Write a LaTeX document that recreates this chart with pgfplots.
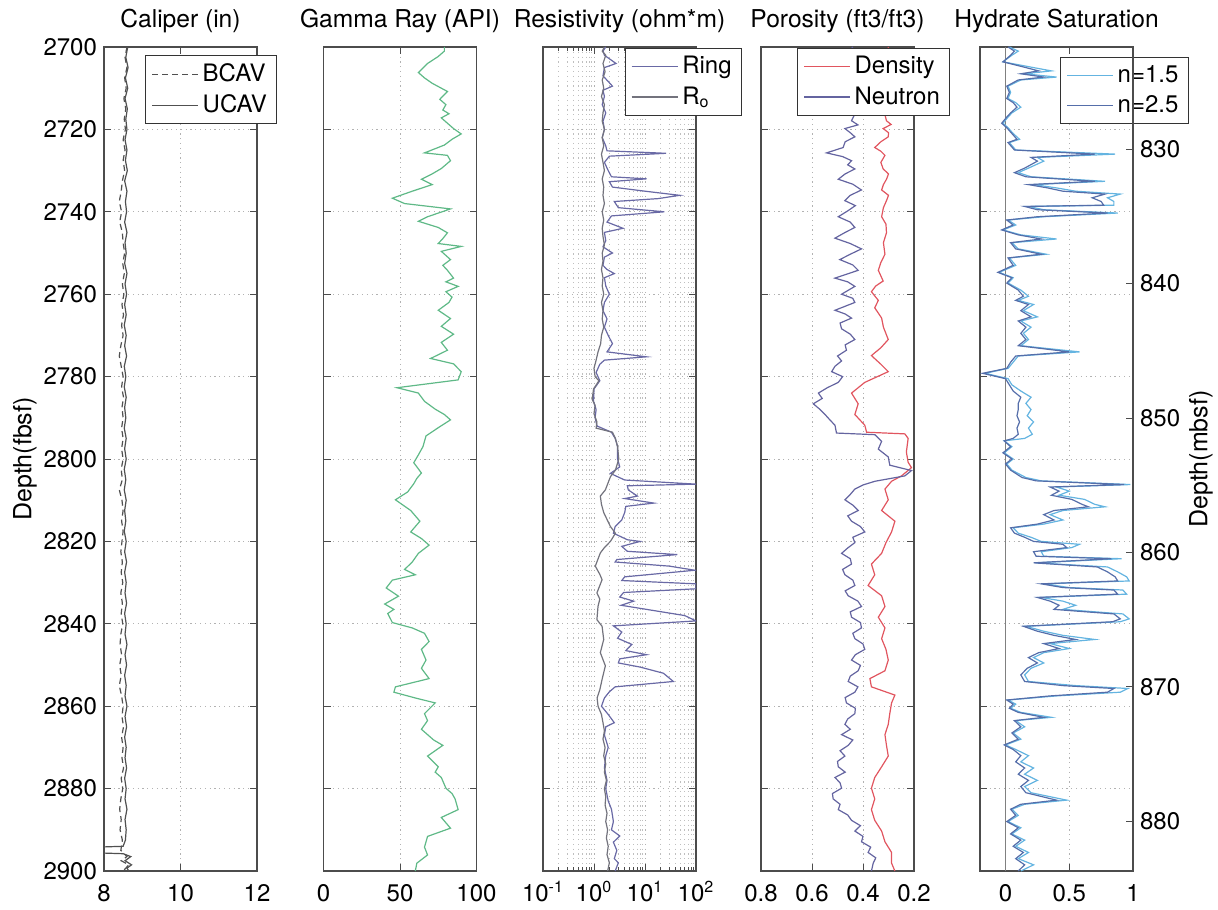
\documentclass[border=0pt]{standalone}
\usepackage{fontspec}
\setmainfont{TeX Gyre Heros}
\usepackage{pgfplots}
\pgfplotsset{compat=1.18}
\definecolor{calcol}{RGB}{80,80,80}
\definecolor{gamcol}{RGB}{95,185,135}
\definecolor{ringcol}{RGB}{105,105,165}
\definecolor{rocol}{RGB}{115,115,125}
\definecolor{denscol}{RGB}{225,85,95}
\definecolor{neutcol}{RGB}{100,100,160}
\definecolor{sacol}{RGB}{100,180,225}
\definecolor{sbcol}{RGB}{85,110,170}
\pgfplotsset{
  welllog/.style={
    scale only axis, width=76.5pt, height=412pt, anchor=south west,
    ymin=2700, ymax=2900, y dir=reverse,
    ytick={2700,2720,...,2900},
    tick align=inside, xtick pos=both, ytick pos=both,
    xmajorgrids, ymajorgrids,
    major grid style={gray!60, line width=0.4pt, dash pattern=on 0.6pt off 1.8pt},
    minor grid style={gray!50, line width=0.4pt, dash pattern=on 0.6pt off 1.8pt},
    axis line style={black!70, line width=0.6pt},
    every tick/.style={black!70, line width=0.5pt},
    major tick length=3.5pt, minor tick length=2pt,
    tick label style={font=\fontsize{12}{14}\selectfont},
    xticklabel style={anchor=base, yshift=-15pt},
    /pgf/number format/assume math mode=true,
    /pgf/number format/1000 sep={},
    title style={font=\fontsize{12.3}{14}\selectfont, at={(0.5,1)}, anchor=base, yshift=3.5pt},
    legend style={font=\fontsize{12}{14}\selectfont, draw=black!80, fill=white, anchor=north west,
      inner xsep=3pt, inner ysep=2pt, row sep=1pt, line width=0.5pt},
    legend cell align=left,
    legend image code/.code={\draw[##1] (0pt,0pt) -- (23pt,0pt);},
    every axis plot/.append style={line width=0.6pt},
  }
}
\begin{document}
\begin{tikzpicture}
\useasboundingbox (0,0) rectangle (609pt,454.5pt);
% ---------------- Caliper
\begin{axis}[welllog, at={(52pt,19pt)}, xmin=8, xmax=12, xtick={8,10,12},
  title={Caliper (in)}, ylabel={Depth(fbsf)},
  ylabel style={font=\fontsize{12.5}{14}\selectfont, at={(axis description cs:-0.516,0.5)}, anchor=center},
  legend style={at={(0.268,0.990)}}]
\addplot[calcol, dash pattern=on 3pt off 2pt] coordinates {
(8.60,2700) (8.55,2702.5) (8.60,2705) (8.54,2707.5) (8.58,2710) (8.52,2712.5) (8.57,2715) (8.53,2717.5)
(8.56,2720) (8.50,2722.5) (8.55,2725) (8.50,2727.5) (8.54,2730) (8.48,2732.5) (8.45,2735) (8.40,2737.5)
(8.46,2740) (8.41,2742.5) (8.48,2745) (8.50,2747.5) (8.54,2750) (8.49,2752.5) (8.53,2755) (8.48,2757.5)
(8.52,2760) (8.47,2762.5) (8.51,2765) (8.46,2767.5) (8.50,2770) (8.44,2772.5) (8.40,2775) (8.45,2777.5)
(8.50,2780) (8.46,2782.5) (8.51,2785) (8.47,2787.5) (8.50,2790) (8.46,2792.5) (8.50,2795) (8.46,2797.5)
(8.50,2800) (8.45,2802.5) (8.48,2805) (8.40,2807.5) (8.47,2810) (8.50,2812.5) (8.46,2815) (8.50,2817.5)
(8.47,2820) (8.44,2822.5) (8.48,2825) (8.45,2827.5) (8.49,2830) (8.44,2832.5) (8.48,2835) (8.45,2837.5)
(8.49,2840) (8.44,2842.5) (8.42,2845) (8.46,2847.5) (8.41,2850) (8.45,2852.5) (8.40,2855) (8.46,2857.5)
(8.50,2860) (8.47,2862.5) (8.51,2865) (8.46,2867.5) (8.50,2870) (8.47,2872.5) (8.51,2875) (8.45,2877.5)
(8.49,2880) (8.44,2882.5) (8.41,2885) (8.45,2887.5) (8.42,2890) (8.48,2892.5) (8.44,2895) (8.60,2896.5)
(8.45,2897.5) (8.65,2898.5) (8.50,2900)};
\addlegendentry{BCAV}
\addplot[calcol] coordinates {
(8.62,2700) (8.57,2702.5) (8.63,2705) (8.56,2707.5) (8.62,2710) (8.55,2712.5) (8.61,2715) (8.57,2717.5)
(8.60,2720) (8.55,2722.5) (8.60,2725) (8.56,2727.5) (8.61,2730) (8.54,2732.5) (8.60,2735) (8.56,2737.5)
(8.59,2740) (8.54,2742.5) (8.60,2745) (8.55,2747.5) (8.58,2750) (8.54,2752.5) (8.60,2755) (8.55,2757.5)
(8.59,2760) (8.54,2762.5) (8.58,2765) (8.53,2767.5) (8.58,2770) (8.54,2772.5) (8.59,2775) (8.53,2777.5)
(8.57,2780) (8.53,2782.5) (8.58,2785) (8.54,2787.5) (8.57,2790) (8.53,2792.5) (8.58,2795) (8.54,2797.5)
(8.58,2800) (8.53,2802.5) (8.57,2805) (8.53,2807.5) (8.58,2810) (8.54,2812.5) (8.57,2815) (8.53,2817.5)
(8.58,2820) (8.54,2822.5) (8.59,2825) (8.54,2827.5) (8.58,2830) (8.55,2832.5) (8.59,2835) (8.54,2837.5)
(8.58,2840) (8.55,2842.5) (8.60,2845) (8.55,2847.5) (8.59,2850) (8.54,2852.5) (8.58,2855) (8.55,2857.5)
(8.60,2860) (8.55,2862.5) (8.59,2865) (8.54,2867.5) (8.58,2870) (8.55,2872.5) (8.59,2875) (8.54,2877.5)
(8.58,2880) (8.55,2882.5) (8.60,2885) (8.55,2887.5) (8.58,2890) (8.56,2892.5) (8.50,2894) (7.5,2894.3)
(7.5,2895.5) (8.50,2895.8) (8.70,2896.5) (8.55,2897.5) (8.72,2898.5) (8.60,2899.3) (8.65,2900)};
\addlegendentry{UCAV}
\end{axis}
% ---------------- Gamma ray
\begin{axis}[welllog, at={(161.75pt,19pt)}, xmin=0, xmax=100, xtick={0,50,100}, yticklabels={},
  title={Gamma Ray (API)}]
\addplot[gamcol] coordinates {
(79,2700) (79,2701) (75,2702.3) (68,2704) (62,2706.2) (66,2707.5) (71,2708.8) (81,2710.8) (76,2712.7)
(80,2714) (78,2715.3) (82,2716.2) (77,2717.2) (85,2719.8) (90,2721.1) (84,2722.4) (79,2723.8) (66,2725.7)
(81,2726.3) (83,2727.6) (77,2729.5) (71,2730.8) (64,2732.1) (71,2733.4) (58,2735) (45,2736.7) (53,2738)
(83,2739.3) (68,2741.2) (62,2742.3) (75,2743.8) (81,2745.1) (78,2746.5) (75,2747.7) (90,2748.4) (77,2749.6)
(83,2751.6) (78,2753) (81,2754.2) (85,2756.1) (80,2757) (88,2758.1) (80,2759.4) (84,2760.7) (82,2762)
(75,2763.9) (83,2765.9) (77,2767.8) (85,2769.7) (77,2771.7) (81,2773.6) (70,2775.6) (85,2776.9) (90,2778.8)
(88,2780.8) (48,2782.7) (62,2784) (66,2786) (73,2787.9) (79,2789.2) (83,2790.5) (75,2792.4) (71,2793.4)
(67,2794.4) (65,2797) (62,2799) (59,2800.9) (64,2803.4) (61,2804.7) (59,2806) (55,2808) (47,2809.9)
(57,2812.5) (63,2815.1) (57,2817.7) (64,2819.3) (69,2820.9) (62,2822.9) (58,2825) (53,2826.8) (60,2828.1)
(45,2829.4) (41,2831.3) (49,2833.3) (40,2835.2) (46,2836.5) (42,2837.5) (45,2839.7) (58,2841) (66,2842.3)
(69,2844.3) (64,2846.2) (67,2848.8) (64,2850.8) (69,2853.3) (47,2855.3) (46,2856.6) (60,2858) (73,2859.2)
(66,2861.8) (68,2863.5) (64,2865.6) (68,2866.9) (72,2868.2) (78,2869.5) (68,2872.1) (75,2874.7) (73,2876)
(77,2877.3) (80,2879.9) (84,2881.2) (86,2882.5) (88,2885.1) (77,2887) (83,2889.6) (68,2891.6) (66,2894.2)
(68,2896.1) (61,2898.1) (60,2900)};
\end{axis}
% ---------------- Resistivity
\begin{axis}[welllog, at={(271.5pt,19pt)}, xmode=log, xmin=0.1, xmax=100,
  xtick={0.1,1,10,100},
  xticklabels={10\textsuperscript{-1},10\textsuperscript{0},10\textsuperscript{1},10\textsuperscript{2}},
  minor xtick={0.2,0.3,0.4,0.5,0.6,0.7,0.8,0.9,2,3,4,5,6,7,8,9,20,30,40,50,60,70,80,90},
  xminorgrids, yticklabels={},
  title={Resistivity (ohm*m)},
  legend style={at={(0.533,0.999)}}]
\addplot[ringcol] coordinates {
(1.7,2700) (1.5,2701) (1.6,2702) (2.7,2704) (1.6,2705) (1.5,2707) (2.3,2709.5) (1.5,2710.5) (1.6,2712)
(1.45,2714) (1.7,2716) (1.5,2718) (1.6,2720) (1.45,2722) (1.7,2724) (1.8,2725.2) (26,2725.8) (2.0,2726.5)
(1.6,2728) (1.9,2730) (2.2,2731.5) (10.7,2732) (2.0,2732.7) (2.3,2734) (10,2735) (48,2736) (18,2736.8)
(2.5,2737.5) (3,2739) (24,2740) (2.2,2741) (1.8,2742.5) (3.7,2744) (1.6,2745) (1.7,2747) (1.5,2748.5)
(2.3,2750) (1.6,2751) (1.5,2753) (1.8,2754) (2.5,2755) (1.6,2756) (1.7,2758) (2.0,2760) (1.6,2762)
(1.5,2764) (1.8,2766) (1.6,2768) (1.9,2770) (2.3,2772) (1.8,2774) (10.7,2775.2) (1.6,2776) (1.3,2777)
(1.1,2779) (1.3,2781) (1.0,2783) (0.98,2786) (1.1,2788) (1.05,2790) (1.15,2792) (2.2,2793.5) (2.6,2795)
(2.9,2797) (2.9,2800) (3.2,2801.9) (2.1,2803.5) (4.0,2805.1) (100,2806.1) (4.5,2806.5) (4.7,2807.5)
(7.1,2809) (4.0,2809.6) (14.9,2810.7) (4.2,2811.5) (4.0,2813) (3.5,2814.8) (2.6,2816.4) (2.4,2818)
(4.5,2819.6) (8,2820) (3.5,2821.2) (4.5,2822.4) (43,2823.2) (2.8,2824.4) (2.6,2825) (30,2826) (95,2827)
(4,2828.6) (3.5,2829.5) (100,2830.3) (100,2831.5) (3.8,2832.4) (3.2,2833.5) (6,2834.5) (3.4,2835.5)
(60,2838) (100,2839.3) (2.4,2840.5) (3.5,2842) (2.9,2843.5) (5.5,2845) (4.2,2846.5) (10.7,2847.5)
(3.2,2848.5) (3.0,2849.5) (8,2850.5) (23,2852) (36,2854) (2.6,2855.3) (2.0,2856.5) (1.6,2858) (1.4,2860)
(1.9,2862) (2.5,2864) (1.7,2865) (1.6,2867) (1.9,2870) (1.7,2872) (1.6,2875) (1.8,2878) (1.7,2880)
(1.9,2883) (2.2,2885) (2.4,2888) (2.2,2890) (3.2,2891.5) (2.4,2893) (2.8,2895) (2.5,2897) (3.0,2898)
(2.6,2900)};
\addlegendentry{Ring}
\addplot[rocol] coordinates {
(1.6,2700) (1.45,2701) (1.7,2702) (1.5,2704) (1.65,2706) (1.45,2708) (1.55,2710) (1.4,2712) (1.6,2714)
(1.5,2716) (1.45,2718) (1.6,2720) (1.45,2722) (1.55,2724) (1.4,2726) (1.5,2728) (1.6,2730) (1.45,2732)
(1.55,2734) (1.5,2736) (1.6,2738) (1.45,2740) (1.55,2742) (1.45,2744) (1.5,2746) (1.6,2748) (1.45,2750)
(1.5,2752) (1.4,2754) (1.5,2756) (1.45,2758) (1.55,2760) (1.4,2762) (1.5,2764) (1.45,2766) (1.55,2768)
(1.4,2770) (1.35,2772) (1.2,2774) (1.1,2776) (1.0,2778) (1.05,2780) (1.25,2781) (0.98,2783) (0.92,2785.5)
(1.05,2787) (1.0,2789) (1.14,2791) (1.1,2792.5) (2.3,2793.5) (2.63,2795) (2.9,2797) (3.06,2800)
(2.63,2802.7) (2.1,2804.3) (1.67,2807.5) (1.33,2809) (1.4,2811) (1.55,2813) (2.1,2816.4) (2.63,2818)
(2.1,2820) (1.6,2821.5) (1.33,2822.8) (1.06,2826) (1.3,2828) (1.44,2829.3) (1.14,2832.5) (1.3,2834)
(1.2,2835.7) (1.14,2839) (1.44,2840.6) (1.55,2843.8) (1.33,2847) (1.67,2850.2) (1.44,2853.5) (1.3,2856)
(1.15,2858) (1.2,2860) (1.4,2862) (1.5,2864) (1.6,2866) (1.5,2868) (1.65,2870) (1.55,2872) (1.7,2874)
(1.6,2876) (1.75,2878) (1.6,2880) (1.7,2882) (1.65,2884) (1.8,2886) (1.7,2888) (1.85,2890) (1.75,2892)
(1.9,2894) (1.8,2896) (2.0,2898) (1.85,2900)};
\addlegendentry{R\textsubscript{o}}
\end{axis}
% ---------------- Porosity
\begin{axis}[welllog, at={(380.5pt,19pt)}, xmin=0.2, xmax=0.8, x dir=reverse,
  xtick={0.2,0.4,0.6,0.8}, yticklabels={},
  title={Porosity (ft3/ft3)},
  legend style={at={(0.235,0.999)}}]
\addplot[denscol] coordinates {
(0.30,2700) (0.32,2703) (0.29,2706) (0.31,2709) (0.30,2712) (0.32,2715) (0.308,2717.9) (0.29,2718.8)
(0.321,2719.8) (0.30,2720.8) (0.301,2721.8) (0.33,2723) (0.354,2724.4) (0.33,2725.3) (0.314,2726.3)
(0.33,2728) (0.321,2729.6) (0.30,2730.8) (0.308,2732.1) (0.32,2733.4) (0.327,2734.7) (0.30,2736)
(0.308,2737.3) (0.32,2739) (0.327,2741.2) (0.31,2743) (0.308,2745.1) (0.32,2747.5) (0.314,2750.3)
(0.33,2752.3) (0.340,2754.2) (0.321,2756.8) (0.35,2758) (0.367,2759.4) (0.34,2761.5) (0.354,2763.3)
(0.327,2765.8) (0.32,2768) (0.301,2771) (0.33,2773) (0.367,2774.9) (0.33,2777) (0.301,2778.8)
(0.393,2781.4) (0.445,2784) (0.419,2786.6) (0.432,2789.2) (0.393,2791.8) (0.386,2793.5) (0.236,2793.9)
(0.223,2795) (0.23,2798.3) (0.223,2800.8) (0.210,2802.1) (0.249,2804.1) (0.288,2805.4) (0.314,2807.3)
(0.301,2809.9) (0.327,2812.5) (0.275,2815.1) (0.288,2817.7) (0.31,2820.3) (0.327,2822.9) (0.367,2825.5)
(0.354,2828.1) (0.380,2830.7) (0.327,2833.2) (0.314,2835.8) (0.340,2838.4) (0.314,2841) (0.327,2843.6)
(0.31,2846.2) (0.301,2848.8) (0.314,2851.4) (0.373,2853.3) (0.367,2855.3) (0.275,2857.3) (0.288,2859.2)
(0.295,2861.8) (0.301,2864.4) (0.314,2866.9) (0.308,2869.5) (0.301,2872.1) (0.327,2874.7) (0.354,2877.3)
(0.367,2879.9) (0.354,2882.5) (0.367,2885.1) (0.354,2887.7) (0.327,2890.3) (0.314,2892.9) (0.288,2895.5)
(0.288,2898.1) (0.275,2900)};
\addlegendentry{Density}
\addplot[neutcol] coordinates {
(0.44,2700) (0.47,2702) (0.43,2704) (0.46,2706) (0.42,2708) (0.47,2710) (0.44,2712) (0.48,2714) (0.43,2716)
(0.445,2717.9) (0.42,2718.9) (0.471,2719.8) (0.45,2720.8) (0.432,2721.8) (0.47,2723) (0.478,2724.4)
(0.543,2725.7) (0.48,2726.6) (0.445,2727.6) (0.46,2728.6) (0.432,2729.6) (0.47,2730.8) (0.497,2732.1)
(0.44,2733.3) (0.406,2734.7) (0.45,2736) (0.471,2737.3) (0.43,2738.5) (0.458,2739.7) (0.497,2741.2)
(0.45,2742.5) (0.432,2743.8) (0.47,2745) (0.510,2746.4) (0.45,2747.7) (0.406,2749) (0.45,2750.3)
(0.491,2751.6) (0.44,2752.9) (0.419,2754.2) (0.510,2756.1) (0.46,2757) (0.432,2758.1) (0.484,2760)
(0.44,2761) (0.432,2762) (0.510,2763.9) (0.47,2764.8) (0.445,2765.8) (0.49,2767) (0.484,2768.4)
(0.45,2769.7) (0.432,2771) (0.47,2772.3) (0.465,2773.6) (0.50,2775) (0.484,2776.2) (0.51,2777.5)
(0.523,2778.8) (0.48,2780) (0.497,2781.4) (0.54,2782.7) (0.575,2784) (0.56,2785.3) (0.595,2786.6)
(0.57,2787.9) (0.549,2789.2) (0.53,2790.5) (0.510,2791.8) (0.504,2793.7) (0.353,2794.1) (0.327,2795.7)
(0.340,2797.6) (0.301,2799.5) (0.295,2801.5) (0.210,2802.8) (0.236,2804.1) (0.353,2805.4) (0.40,2806.3)
(0.432,2807.3) (0.45,2808.6) (0.471,2809.9) (0.44,2811.2) (0.419,2812.5) (0.46,2813.8) (0.445,2815.1)
(0.41,2816.4) (0.393,2817.7) (0.44,2819) (0.432,2820.3) (0.46,2821.6) (0.484,2822.9) (0.45,2824.2)
(0.445,2825.5) (0.48,2826.8) (0.471,2828.1) (0.44,2829.4) (0.432,2830.7) (0.47,2832) (0.458,2833.2)
(0.42,2834.5) (0.406,2835.8) (0.45,2837.1) (0.445,2838.4) (0.41,2839.7) (0.406,2841) (0.44,2842.3)
(0.432,2843.6) (0.40,2844.9) (0.393,2846.2) (0.43,2847.5) (0.445,2848.8) (0.41,2850.1) (0.419,2851.4)
(0.45,2852.7) (0.458,2854) (0.42,2855.3) (0.432,2856.6) (0.47,2857.9) (0.465,2859.2) (0.43,2860.5)
(0.432,2861.8) (0.46,2863.1) (0.471,2864.4) (0.45,2865.6) (0.484,2866.9) (0.44,2868.2) (0.458,2869.5)
(0.49,2870.8) (0.471,2872.1) (0.50,2873.4) (0.497,2874.7) (0.47,2876) (0.510,2877.3) (0.49,2878.6)
(0.484,2879.9) (0.52,2881.2) (0.517,2882.5) (0.49,2883.8) (0.497,2885.1) (0.46,2886.4) (0.445,2887.7)
(0.41,2889) (0.432,2890.3) (0.40,2891.6) (0.406,2892.9) (0.37,2894.2) (0.380,2895.5) (0.35,2896.8)
(0.360,2898.1) (0.367,2900)};
\addlegendentry{Neutron}
\end{axis}
% ---------------- Hydrate saturation
\begin{axis}[welllog, at={(490pt,19pt)}, xmin=-0.2, xmax=1, xtick={0,0.5,1}, yticklabels={},
  ytick pos=left, title={Hydrate Saturation},
  legend style={at={(0.523,0.988)}}]
\addplot[gray, line width=0.6pt, forget plot] coordinates {(0,2700) (0,2900)};
\addplot[sacol] coordinates {
(0.03,2700) (0.10,2701) (0.05,2702) (-0.02,2703.6) (0.22,2705) (0.36,2705.8) (0.15,2706.5) (0.40,2707.3)
(0.12,2708) (0.02,2709.5) (0.04,2711) (0.02,2712.5) (0.08,2713.5) (0.12,2714.6) (0.05,2716) (0.02,2717)
(-0.02,2718.5) (0.02,2719.6) (0.06,2721) (0.11,2722.4) (0.03,2723.2) (0.08,2725) (0.86,2726) (0.25,2726.8)
(0.30,2727.7) (0.18,2729.4) (0.10,2730.5) (0.20,2731.5) (0.78,2732.6) (0.22,2733.4) (0.40,2734.2)
(0.55,2735) (0.90,2735.7) (0.80,2736.6) (0.85,2737.5) (0.85,2738.4) (0.18,2738.7) (0.30,2739.5)
(0.88,2740.3) (0.30,2741.2) (0.02,2742) (0.08,2743.2) (-0.02,2744.4) (0.12,2745.6) (0.40,2746.6)
(0.05,2747.5) (0.10,2749) (0.32,2750.3) (0.03,2751.2) (0.08,2753) (-0.05,2754.7) (0.06,2756) (0.02,2757.3)
(0.12,2759) (0.18,2760.5) (0.10,2761.5) (0.22,2762.5) (0.14,2764) (0.25,2765.5) (0.12,2766.5) (0.20,2768)
(0.14,2769.5) (0.18,2771) (0.12,2772.5) (0.58,2774) (0.10,2775) (0.06,2776.5) (0.02,2778) (-0.16,2779.2)
(0.02,2780.5) (0.05,2782) (0.12,2783.5) (0.20,2785) (0.16,2786.5) (0.20,2788) (0.17,2789.5) (0.22,2791)
(0.18,2792.5) (0.21,2794) (0.15,2795) (-0.01,2795.6) (0.05,2797) (-0.01,2798.5) (0.06,2800) (0.01,2801.2)
(0.05,2802.7) (0.16,2804.5) (0.28,2805.3) (0.98,2806.2) (0.40,2806.8) (0.50,2807.8) (0.42,2808.8)
(0.62,2809.8) (0.70,2811) (0.78,2811.6) (0.45,2812.5) (0.35,2813.5) (0.45,2814.8) (0.30,2815.8)
(0.06,2816.7) (0.10,2818) (0.20,2819) (0.28,2820) (0.58,2820.7) (0.52,2821.5) (0.28,2822.5) (0.30,2823.6)
(0.91,2824.2) (0.24,2825.2) (0.80,2826.2) (0.88,2827.4) (0.95,2828.6) (0.97,2829.6) (0.30,2830.3)
(0.50,2831.2) (0.92,2831.8) (0.95,2832.8) (0.28,2833.6) (0.45,2834.5) (0.55,2835.5) (0.45,2836.5)
(0.92,2837.6) (0.97,2838.8) (0.90,2839.5) (0.16,2840.6) (0.30,2841.8) (0.45,2842.8) (0.70,2843.8)
(0.35,2844.8) (0.50,2846) (0.30,2847) (0.22,2848.2) (0.30,2849.5) (0.20,2850.8) (0.15,2852.4) (0.18,2854)
(0.55,2855) (0.96,2855.7) (0.90,2856.6) (0.40,2857.5) (0.02,2858.5) (0.08,2859.5) (0.04,2860.5)
(0.12,2861.5) (0.36,2862.7) (0.08,2863.5) (0.15,2865) (0.06,2866.5) (0.12,2868) (0.00,2869.4) (0.08,2870.5)
(0.18,2872) (0.12,2873.5) (0.22,2875) (0.15,2876.5) (0.25,2878) (0.15,2879.5) (0.20,2881) (0.48,2882.8)
(0.15,2883.8) (0.05,2885) (0.10,2886.5) (0.02,2888) (0.12,2889.5) (0.05,2891) (0.15,2892.5) (0.08,2894)
(0.18,2895.5) (0.10,2897) (0.22,2898.5) (0.12,2900)};
\addlegendentry{n=1.5}
\addplot[sbcol] coordinates {
(0.02,2700) (0.07,2701) (0.04,2702) (-0.02,2703.6) (0.16,2705) (0.26,2705.8) (0.12,2706.5) (0.30,2707.3)
(0.10,2708) (0.01,2709.5) (0.03,2711) (0.01,2712.5) (0.06,2713.5) (0.09,2714.6) (0.04,2716) (0.01,2717)
(-0.03,2718.5) (0.01,2719.6) (0.05,2721) (0.09,2722.4) (0.02,2723.2) (0.07,2725) (0.70,2726) (0.20,2726.8)
(0.25,2727.7) (0.15,2729.4) (0.07,2730.5) (0.16,2731.5) (0.70,2732.6) (0.18,2733.4) (0.33,2734.2)
(0.45,2735) (0.78,2735.7) (0.68,2736.6) (0.75,2737.5) (0.77,2738.4) (0.15,2738.7) (0.25,2739.5)
(0.80,2740.3) (0.25,2741.2) (0.01,2742) (0.06,2743.2) (-0.03,2744.4) (0.10,2745.6) (0.28,2746.6)
(0.04,2747.5) (0.08,2749) (0.28,2750.3) (0.02,2751.2) (0.06,2753) (-0.06,2754.7) (0.05,2756) (0.01,2757.3)
(0.10,2759) (0.14,2760.5) (0.08,2761.5) (0.18,2762.5) (0.12,2764) (0.20,2765.5) (0.10,2766.5) (0.16,2768)
(0.12,2769.5) (0.16,2771) (0.10,2772.5) (0.50,2774) (0.08,2775) (0.04,2776.5) (0.01,2778) (-0.18,2779.2)
(0.00,2780.5) (0.03,2782) (0.06,2783.5) (0.12,2785) (0.10,2786.5) (0.10,2788) (0.09,2789.5) (0.11,2791)
(0.09,2792.5) (0.10,2794) (0.06,2795) (-0.01,2795.6) (0.04,2797) (-0.02,2798.5) (0.05,2800) (0.00,2801.2)
(0.04,2802.7) (0.13,2804.5) (0.24,2805.3) (0.93,2806.2) (0.35,2806.8) (0.42,2807.8) (0.36,2808.8)
(0.52,2809.8) (0.60,2811) (0.65,2811.6) (0.38,2812.5) (0.30,2813.5) (0.38,2814.8) (0.25,2815.8)
(0.04,2816.7) (0.07,2818) (0.15,2819) (0.22,2820) (0.45,2820.7) (0.48,2821.5) (0.22,2822.5) (0.24,2823.6)
(0.83,2824.2) (0.22,2825.2) (0.72,2826.2) (0.80,2827.4) (0.86,2828.6) (0.88,2829.6) (0.28,2830.3)
(0.45,2831.2) (0.85,2831.8) (0.88,2832.8) (0.25,2833.6) (0.35,2834.5) (0.42,2835.5) (0.38,2836.5)
(0.85,2837.6) (0.90,2838.8) (0.84,2839.5) (0.14,2840.6) (0.25,2841.8) (0.38,2842.8) (0.55,2843.8)
(0.30,2844.8) (0.42,2846) (0.26,2847) (0.18,2848.2) (0.25,2849.5) (0.17,2850.8) (0.12,2852.4) (0.15,2854)
(0.45,2855) (0.85,2855.7) (0.80,2856.6) (0.35,2857.5) (0.01,2858.5) (0.06,2859.5) (0.03,2860.5)
(0.10,2861.5) (0.30,2862.7) (0.07,2863.5) (0.12,2865) (0.05,2866.5) (0.10,2868) (-0.01,2869.4) (0.06,2870.5)
(0.12,2872) (0.08,2873.5) (0.15,2875) (0.10,2876.5) (0.18,2878) (0.12,2879.5) (0.16,2881) (0.40,2882.8)
(0.12,2883.8) (0.04,2885) (0.08,2886.5) (0.01,2888) (0.10,2889.5) (0.04,2891) (0.12,2892.5) (0.06,2894)
(0.14,2895.5) (0.08,2897) (0.15,2898.5) (0.10,2900)};
\addlegendentry{n=2.5}
\end{axis}
\begin{axis}[scale only axis, width=76.5pt, height=412pt, anchor=south west, at={(490pt,19pt)},
  xmin=-0.2, xmax=1, hide x axis, axis y line*=right,
  ymin=822.4, ymax=883.7, y dir=reverse, ytick={830,840,...,880},
  tick align=inside, axis line style={black!70, line width=0.6pt},
  every tick/.style={black!70, line width=0.5pt}, major tick length=3.5pt,
  tick label style={font=\fontsize{12}{14}\selectfont},
  /pgf/number format/assume math mode=true,
  ylabel={Depth(mbsf)},
  ylabel style={font=\fontsize{12.5}{14}\selectfont, at={(axis description cs:1.444,0.5)}, anchor=center}]
\addplot[draw=none] coordinates {(0,830) (0,880)};
\end{axis}
\end{tikzpicture}
\end{document}
